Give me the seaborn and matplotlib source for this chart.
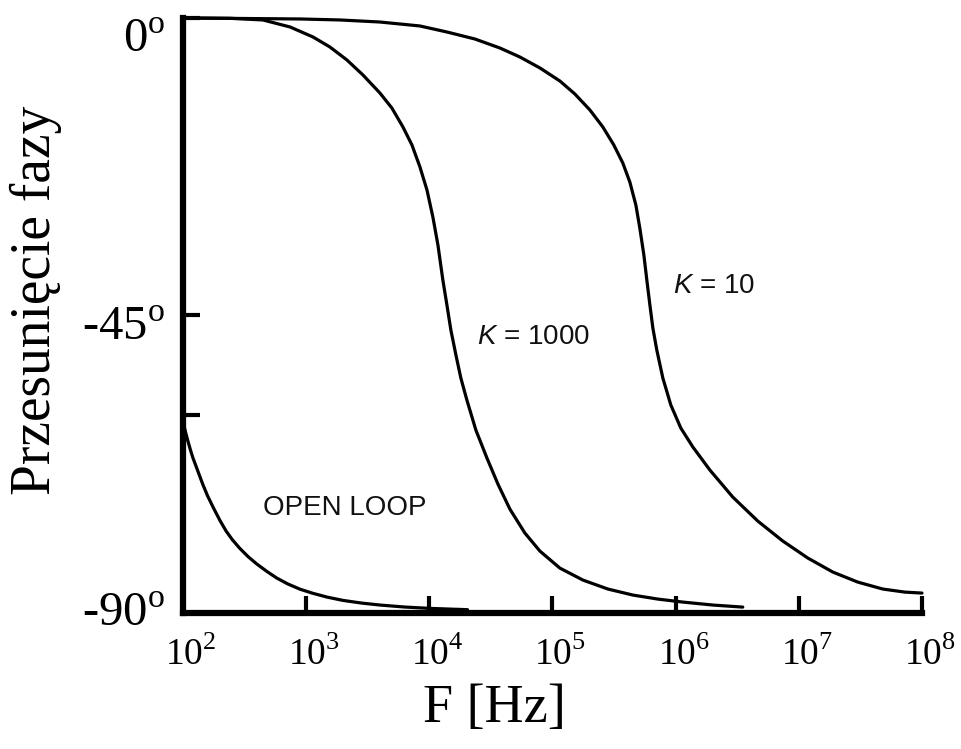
import numpy as np
import pandas as pd
import matplotlib
import matplotlib.pyplot as plt
import matplotlib.transforms as mtransforms
import seaborn as sns

# Log10(F) i przesunięcie fazy [deg]
open_loop_logf = [2.00, 2.02, 2.04, 2.06, 2.08, 2.10, 2.13, 2.16, 2.20, 2.25,
                  2.30, 2.35, 2.40, 2.46, 2.53, 2.60, 2.68, 2.76, 2.85, 2.95,
                  3.05, 3.17, 3.30, 3.45, 3.60, 3.80, 4.00, 4.15, 4.31]
open_loop_phase = [-61.0, -62.6, -64.0, -65.3, -66.5, -67.5, -69.0, -70.5, -72.3, -74.2,
                   -76.0, -77.6, -78.9, -80.2, -81.5, -82.6, -83.7, -84.7, -85.6, -86.4,
                   -87.0, -87.6, -88.1, -88.5, -88.8, -89.1, -89.3, -89.4, -89.5]

k1000_logf = [2.000, 2.381, 2.649, 2.869, 3.055, 3.193, 3.331, 3.461, 3.599, 3.696,
              3.786, 3.859, 3.924, 3.981, 4.029, 4.070, 4.110, 4.143, 4.175, 4.216,
              4.256, 4.305, 4.378, 4.468, 4.557, 4.654, 4.776, 4.898, 5.060, 5.247,
              5.450, 5.653, 5.856, 6.058, 6.302, 6.545]
k1000_phase = [0.0, -0.05, -0.30, -1.36, -2.87, -4.39, -6.35, -8.62, -11.35, -13.62,
               -16.49, -19.21, -22.54, -26.02, -30.11, -34.34, -39.64, -43.42, -47.20, -50.98,
               -54.46, -57.79, -62.33, -66.57, -70.50, -74.28, -77.91, -80.64, -83.21, -85.02,
               -86.38, -87.29, -87.90, -88.35, -88.80, -89.11]

k10_logf = [2.000, 2.950, 3.274, 3.599, 3.924, 4.143, 4.370, 4.573, 4.735, 4.898,
            5.060, 5.182, 5.304, 5.409, 5.498, 5.571, 5.628, 5.677, 5.709, 5.742,
            5.766, 5.791, 5.815, 5.847, 5.896, 5.961, 6.042, 6.140, 6.278, 6.464,
            6.667, 6.870, 7.073, 7.276, 7.479, 7.682, 7.860, 8.000]
k10_phase = [0.0, -0.15, -0.30, -0.61, -1.21, -2.12, -3.18, -4.54, -5.90, -7.56,
             -9.53, -11.50, -13.92, -16.49, -19.21, -21.94, -24.81, -28.29, -31.77, -35.85,
             -39.64, -43.42, -46.90, -50.23, -54.46, -58.55, -62.03, -64.90, -68.38, -72.47,
             -76.10, -79.12, -81.69, -83.81, -85.33, -86.38, -86.84, -86.99]

x_ticks = [1e2, 1e3, 1e4, 1e5, 1e6, 1e7, 1e8]
x_labels = ['$10^{2}$', '$10^{3}$', '$10^{4}$', '$10^{5}$', '$10^{6}$', '$10^{7}$', '$10^{8}$']
y_ticks = [0, -45, -60, -90]
y_labels = ['0$^{\\mathrm{o}}$', '-45$^{\\mathrm{o}}$', '', '-90$^{\\mathrm{o}}$']
y_label_shift = [-0.17, -0.08, 0.0, 0.04]  # cale, w dół/górę

sns.set_style('white')
plt.rcParams['font.family'] = ['Liberation Serif', 'DejaVu Serif']
plt.rcParams['mathtext.fontset'] = 'custom'
plt.rcParams['mathtext.rm'] = 'Liberation Serif'
plt.rcParams['mathtext.it'] = 'Liberation Sans:italic'
for key in ['text.color', 'axes.labelcolor', 'xtick.color', 'ytick.color']:
    plt.rcParams[key] = 'black'

fig, ax = plt.subplots(figsize=(9.61, 7.49), dpi=100)
fig.subplots_adjust(left=0.1904, right=0.9594, bottom=0.1816, top=0.976)

curves = [(open_loop_logf, open_loop_phase), (k1000_logf, k1000_phase), (k10_logf, k10_phase)]
for logf, phase in curves:
    df = pd.DataFrame({'f': np.power(10.0, logf), 'phase': phase})
    sns.lineplot(data=df, x='f', y='phase', ax=ax, color='black', lw=2.3,
                 estimator=None, clip_on=False)

ax.set_xscale('log')
ax.set_xlim(1e2, 1e8)
ax.set_ylim(-90, 0)
ax.set_xticks(x_ticks)
ax.set_xticklabels(x_labels)
ax.xaxis.set_minor_locator(matplotlib.ticker.NullLocator())
ax.set_yticks(y_ticks)
ax.set_yticklabels(y_labels)

sns.despine(ax=ax)
for side in ['left', 'bottom']:
    ax.spines[side].set_linewidth(4.5)
    ax.spines[side].set_color('black')
ax.tick_params(axis='both', bottom=True, left=True, direction='in', length=12, width=3,
               color='black', labelcolor='black')
ax.tick_params(axis='x', labelsize=27, pad=17)
ax.tick_params(axis='y', labelsize=35, pad=13)

# lekkie przesunięcia etykiet jak w oryginale
for lab in ax.get_xticklabels():
    lab.set_transform(lab.get_transform() + mtransforms.ScaledTranslation(0.08, 0, fig.dpi_scale_trans))
for lab, dy in zip(ax.get_yticklabels(), y_label_shift):
    lab.set_transform(lab.get_transform() + mtransforms.ScaledTranslation(0, dy, fig.dpi_scale_trans))

ax.set_xlabel('F [Hz]', fontsize=39)
ax.xaxis.set_label_coords(0.422, -0.118)
ax.set_ylabel('Przesunięcie fazy', fontsize=40)
ax.yaxis.set_label_coords(-0.164, 0.526)

ax.text(447, -74.1, 'OPEN LOOP', family='Liberation Sans', fontsize=20,
        va='center', color='#111111')
ax.text(2.46e4, -48.3, '$K$ = 1000', family='Liberation Sans', fontsize=20,
        va='center', color='#111111')
ax.text(9.5e5, -40.5, '$K$ = 10', family='Liberation Sans', fontsize=20,
        va='center', color='#111111')

plt.savefig('out.png', dpi=100)
